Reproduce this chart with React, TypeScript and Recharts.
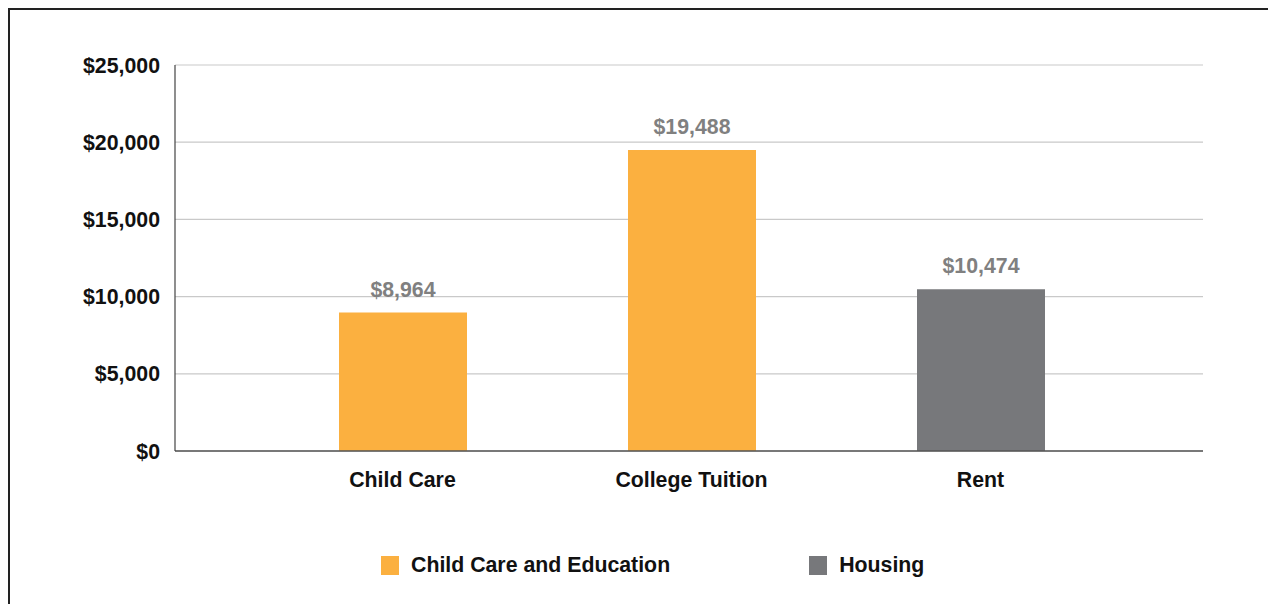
import { BarChart, Bar, XAxis, YAxis, CartesianGrid, Legend, LabelList } from "recharts"

const categories = ["Child Care", "College Tuition", "Rent"]
const educationCosts = [8964, 19488, null]
const housingCosts = [null, null, 10474]
const yTicks = [0, 5000, 10000, 15000, 20000, 25000]

const seriesNames = ["Child Care and Education", "Housing"]
const ORANGE = "#FBB040"
const GRAY = "#77787B"
const FONT = "'Liberation Sans', Arial, sans-serif"

const data = categories.map((name, i) => ({
  name,
  education: educationCosts[i],
  housing: housingCosts[i],
}))

const money = (v: number) => "$" + v.toLocaleString("en-US")

function LegendBox() {
  const colors = [ORANGE, GRAY]
  return (
    <div style={{ display: "flex", alignItems: "center", height: 40, paddingLeft: 371, fontFamily: FONT, fontWeight: 700, fontSize: 21.3, color: "#111" }}>
      {seriesNames.map((s, i) => (
        <div key={s} style={{ display: "flex", alignItems: "center", marginRight: 139 }}>
          <span style={{ display: "inline-block", width: 18, height: 19, background: colors[i], marginRight: 12 }} />
          {s}
        </div>
      ))}
    </div>
  )
}

export default function App() {
  const tickStyle = { fontSize: 21.3, fontWeight: 700, fill: "#111", fontFamily: FONT }
  const labelStyle = { fontSize: 21.3, fontWeight: 700, fill: "#808080", fontFamily: FONT }
  return (
    // fixed so the frame can run to the window edges without scrollbars
    <div style={{ position: "fixed", top: 8, left: 8, width: 1260, height: 596, borderTop: "2px solid #222", borderLeft: "2px solid #222", boxSizing: "border-box", background: "#fff" }}>
      <BarChart width={1258} height={594} data={data} margin={{ top: 55, right: 65, left: 0, bottom: 19 }}>
        <CartesianGrid vertical={false} stroke="#c9c9c9" strokeWidth={1.2} />
        <XAxis
          dataKey="name"
          height={94}
          padding={{ left: 83, right: 78 }}
          tickLine={false}
          tickSize={0}
          tickMargin={21}
          stroke="#555"
          strokeWidth={1.5}
          tick={tickStyle}
        />
        <YAxis
          width={165}
          domain={[0, 25000]}
          ticks={yTicks}
          tickFormatter={money}
          tickLine={false}
          tickSize={0}
          tickMargin={15}
          stroke="#444"
          strokeWidth={1.2}
          tick={tickStyle}
        />
        <Legend verticalAlign="bottom" wrapperStyle={{ left: 0, width: 1258 }} content={() => <LegendBox />} />
        <Bar dataKey="education" name={seriesNames[0]} stackId="a" fill={ORANGE} barSize={128} isAnimationActive={false}>
          <LabelList dataKey="education" position="top" offset={16} formatter={(v: any) => (v == null ? "" : money(v))} style={labelStyle} />
        </Bar>
        <Bar dataKey="housing" name={seriesNames[1]} stackId="a" fill={GRAY} barSize={128} isAnimationActive={false}>
          <LabelList dataKey="housing" position="top" offset={16} formatter={(v: any) => (v == null ? "" : money(v))} style={labelStyle} />
        </Bar>
      </BarChart>
    </div>
  )
}
